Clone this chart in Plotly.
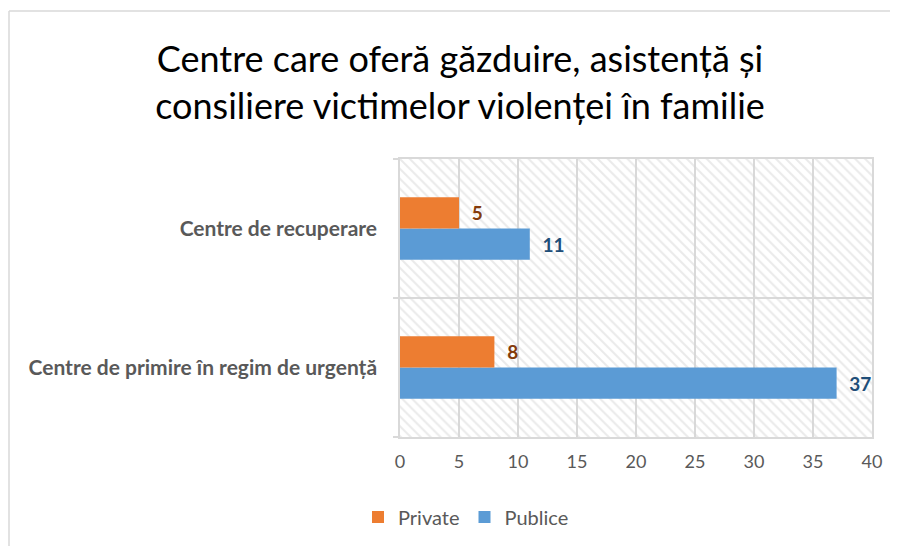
import plotly.graph_objects as go

categories = ["Centre de primire în regim de urgență", "Centre de recuperare"]
private_vals = [8, 5]
publice_vals = [37, 11]
x_ticks = [0, 5, 10, 15, 20, 25, 30, 35, 40]
title_text = "Centre care oferă găzduire, asistență și<br>consiliere victimelor violenței în familie"

FONT = "Lato"
OFF = 8  # page body margin
W, H = 890, 538
# plot area in page pixels: x 400..872, y 159..437
ML, MR, MT, MB = 400 - OFF, W - (872 - OFF), 159 - OFF, H - (437 - OFF)
PW, PH = W - ML - MR, H - MT - MB

def px_x(p):
    return (p - OFF - ML) / PW

def px_y(p):
    return (H - MB - (p - OFF)) / PH

fig = go.Figure()

# hatched plot-area background
fig.add_trace(go.Bar(
    x=[x_ticks[-1]], y=[0], orientation="h", width=1, yaxis="y", xaxis="x",
    marker=dict(color="rgba(0,0,0,0)", line_width=0,
                pattern=dict(shape="\\", fgcolor="#d6d6d6", bgcolor="rgba(0,0,0,0)",
                             size=7, solidity=0.3)),
    showlegend=False, hoverinfo="skip",
))

fig.add_trace(go.Bar(
    name="Publice", x=publice_vals, y=categories, orientation="h", yaxis="y2",
    marker=dict(color="#5B9BD5", line_width=0),
    text=publice_vals, texttemplate="&nbsp;&nbsp;<b>%{x}</b>", textposition="outside",
    textfont=dict(color="#1F4E79", size=19, family=FONT), cliponaxis=False,
    legendrank=2,
))
fig.add_trace(go.Bar(
    name="Private", x=private_vals, y=categories, orientation="h", yaxis="y2",
    marker=dict(color="#ED7D31", line_width=0),
    text=private_vals, texttemplate="&nbsp;&nbsp;<b>%{x}</b>", textposition="outside",
    textfont=dict(color="#843C0C", size=19, family=FONT), cliponaxis=False,
    legendrank=1,
))

fig.update_layout(
    width=W, height=H,
    margin=dict(l=ML, r=MR, t=MT, b=MB, autoexpand=False),
    paper_bgcolor="white", plot_bgcolor="white",
    font=dict(family=FONT, color="#595959"),
    title=dict(text=title_text, x=(460 - OFF) / W, xanchor="center",
               y=1 - (72 - OFF) / H, yanchor="middle",
               font=dict(size=36, color="black", family=FONT)),
    barmode="group", bargap=0.55, bargroupgap=0,
    xaxis=dict(range=[0, 40], tickvals=x_ticks, showgrid=True, gridcolor="#d9d9d9",
               gridwidth=1.5, showline=True, linecolor="#d9d9d9", linewidth=1.5,
               mirror=True, zeroline=False, ticks="", tickfont=dict(size=18, color="#595959"),
               ticklabelstandoff=8),
    yaxis=dict(range=[-0.5, 0.5], visible=False, fixedrange=True),
    yaxis2=dict(overlaying="y", side="left", type="category", categoryorder="array",
                categoryarray=categories, range=[-0.5, 1.5], tickson="boundaries",
                showgrid=True, gridcolor="#d9d9d9", gridwidth=1.5,
                showline=True, linecolor="#d9d9d9", linewidth=1.5, mirror=True,
                ticks="outside", ticklen=5, tickcolor="#d9d9d9", tickwidth=1.5,
                ticklabelstandoff=17,
                tickfont=dict(size=21, color="#595959", family=FONT, weight="bold")),
    legend=dict(orientation="h", x=px_x(466), xanchor="center", y=px_y(517),
                yanchor="middle", font=dict(size=20, color="#595959"),
                traceorder="normal"),
    shapes=[
        dict(type="line", xref="paper", yref="paper", x0=px_x(9), x1=px_x(9),
             y0=px_y(11), y1=px_y(560), line=dict(color="#d9d9d9", width=1.5)),
        dict(type="line", xref="paper", yref="paper", x0=px_x(9), x1=px_x(910),
             y0=px_y(11), y1=px_y(11), line=dict(color="#d9d9d9", width=1.5)),
    ],
)

fig.write_html("out.html")
